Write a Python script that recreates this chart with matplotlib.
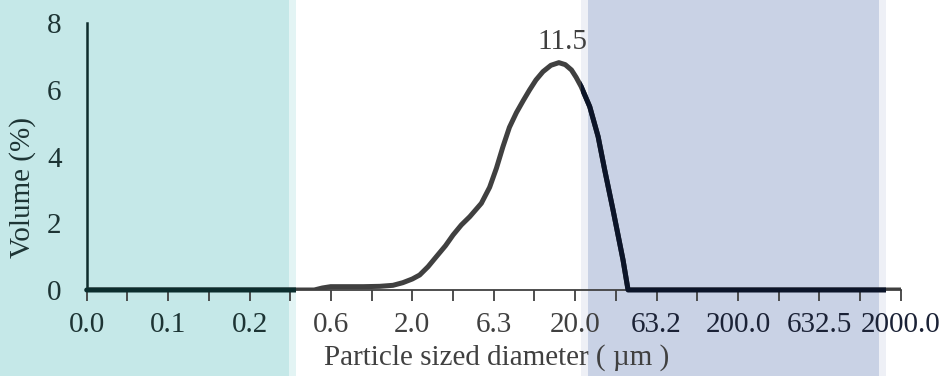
import matplotlib
matplotlib.use("Agg")
import matplotlib.pyplot as plt
from matplotlib.patches import Rectangle
from matplotlib.ticker import FixedLocator, NullLocator

# particle size distribution
size_um = [0.02, 0.50, 0.56, 0.63, 0.80, 1.00, 1.26, 1.52, 1.75, 2.00, 2.22,
           2.50, 2.81, 3.20, 3.56, 4.00, 4.51, 5.31, 5.97, 6.57, 7.21, 7.90,
           8.72, 9.60, 10.5, 11.5, 12.7, 14.2, 15.9, 17.4, 19.0, 20.3, 21.8,
           24.6, 27.7, 30.4, 34.2, 39.4, 42.3, 2000.0]
volume_pct = [0, 0, 0.06, 0.10, 0.10, 0.10, 0.11, 0.14, 0.22, 0.33, 0.45,
              0.70, 1.00, 1.33, 1.65, 1.95, 2.20, 2.60, 3.08, 3.65, 4.30, 4.88,
              5.32, 5.68, 6.00, 6.30, 6.55, 6.74, 6.82, 6.76, 6.60, 6.38, 6.10,
              5.50, 4.60, 3.60, 2.40, 0.90, 0.0, 0]
peak_label = "11.5"

# tick positions: quarter decades from 0.02 to 2000, label every other one
tick_values = [0.02 * 10 ** (k / 4) for k in range(21)]
tick_labels = ["%.1f" % v if k % 2 == 0 else "" for k, v in enumerate(tick_values)]

y_ticks = [0, 2, 4, 6, 8]

# shaded bands (x in um): (start, end, color)
bands = [
    (0.001, 0.348, "#c5e8e8"), (0.348, 0.384, "#e3f4f4"),
    (21.65, 23.9, "#eef0f6"), (23.9, 1465, "#c9d2e5"), (1465, 1618, "#eef0f6"),
]

plt.rcParams["font.family"] = ["Liberation Serif", "DejaVu Serif"]
FS = 21

fig = plt.figure(figsize=(9.49, 3.76), dpi=100)
ax = fig.add_axes([86.7 / 949, 1 - 290 / 376, 814 / 949, 266.7 / 376])
ax.set_facecolor("none")
ax.set_xscale("log")

for x0, x1, c in bands:
    ax.axvspan(x0, x1, ymin=-1, ymax=2, color=c, lw=0, zorder=0, clip_on=False)

line_kw = dict(lw=3.6, solid_capstyle="round", solid_joinstyle="round", zorder=3)
ax.plot(size_um, volume_pct, color="#404040", **line_kw)

# darker line inside the bands (overlay look)
for x0, x1, c in [(0.001, 0.384, "#0b2d2d"), (21.65, 1618, "#0b1428")]:
    ln, = ax.plot(size_um, volume_pct, color=c, **line_kw)
    clip = Rectangle((x0, -1), x1 - x0, 10, transform=ax.transData)
    ln.set_clip_path(clip)

# peak label
i_peak = volume_pct.index(max(volume_pct))
ax.annotate(peak_label, (size_um[i_peak], volume_pct[i_peak]),
            xytext=(4, 8), textcoords="offset pixels", ha="center", va="bottom",
            fontsize=FS, color="#404040", annotation_clip=False)

ax.set_xlim(tick_values[0], tick_values[-1])
ax.set_ylim(0, 8)
ax.xaxis.set_major_locator(FixedLocator(tick_values))
ax.xaxis.set_minor_locator(NullLocator())
ax.set_xticklabels(tick_labels)
ax.set_yticks(y_ticks)
ax.set_yticklabels([str(v) for v in y_ticks])

ax.tick_params(axis="x", direction="out", length=8, width=1.3, color="#404040",
               labelsize=FS, labelcolor="#404040", pad=8)
ax.tick_params(axis="y", length=0, labelsize=FS, labelcolor="#1d3434", pad=18)

for s in ["top", "right"]:
    ax.spines[s].set_visible(False)
ax.spines["left"].set_color("#0e2c2c")
ax.spines["left"].set_linewidth(1.8)
ax.spines["bottom"].set_color("#404040")
ax.spines["bottom"].set_linewidth(1.3)

# label colors depending on which band they sit in
for v, lab in zip(tick_values, ax.get_xticklabels()):
    if v < 0.384:
        lab.set_color("#1d3434")
    elif v > 21.65:
        lab.set_color("#1b2236")

fig.text(23 / 949, 1 - 187.5 / 376, "Volume (%)", rotation=90, ha="center",
         va="center", fontsize=FS, color="#1d3434")
fig.text(496.7 / 949, 1 - 358 / 376, "Particle sized diameter ( \u00b5m )",
         ha="center", va="center", fontsize=FS, color="#404040")

fig.savefig("out.png", dpi=100)
